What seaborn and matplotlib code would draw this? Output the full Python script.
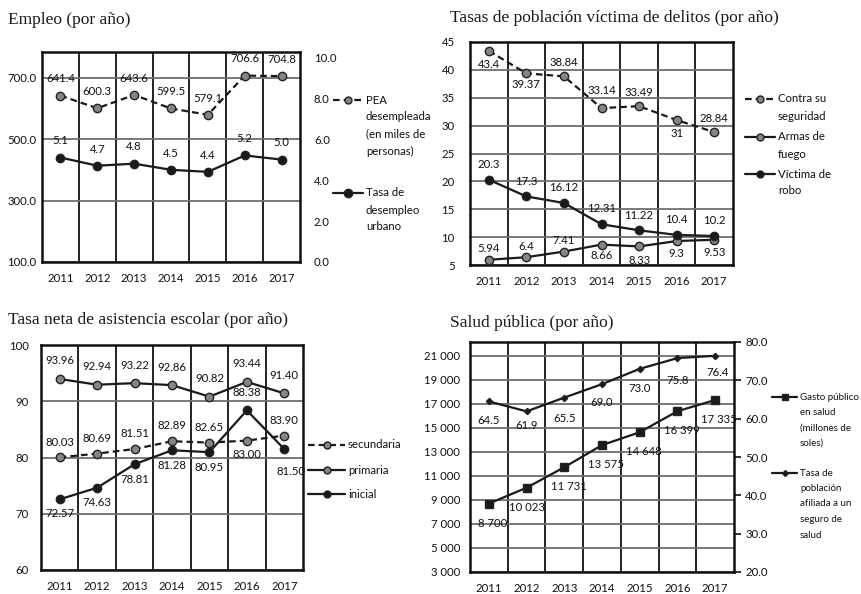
import matplotlib
matplotlib.use("Agg")
import matplotlib.pyplot as plt
from matplotlib.lines import Line2D
from matplotlib.ticker import FormatStrFormatter, FuncFormatter
import seaborn as sns
import numpy as np
import pandas as pd

# ---- data ----
years = [2011, 2012, 2013, 2014, 2015, 2016, 2017]

# Empleo
pea_desempleada = [641.4, 600.3, 643.6, 599.5, 579.1, 706.6, 704.8]
tasa_desempleo = [5.1, 4.7, 4.8, 4.5, 4.4, 5.2, 5.0]

# Tasas de poblacion victima de delitos
contra_seguridad = [43.4, 39.37, 38.84, 33.14, 33.49, 31, 28.84]
armas_fuego = [5.94, 6.4, 7.41, 8.66, 8.33, 9.3, 9.53]
victima_robo = [20.3, 17.3, 16.12, 12.31, 11.22, 10.4, 10.2]

# Tasa neta de asistencia escolar
secundaria = [80.03, 80.69, 81.51, 82.89, 82.65, 83.00, 83.90]
primaria = [93.96, 92.94, 93.22, 92.86, 90.82, 93.44, 91.40]
inicial = [72.57, 74.63, 78.81, 81.28, 80.95, 88.38, 81.50]

# Salud publica
gasto_salud = [8700, 10023, 11731, 13575, 14648, 16399, 17335]
tasa_afiliada = [64.5, 61.9, 65.5, 69.0, 73.0, 75.8, 76.4]

# label offsets in points (+ above, - below)
off_contra = [-10, -8, 10, 13, 10, -10, 10]
off_armas = [8, 8, 8, -8, -10, -9, -9]
off_secundaria = [11, 11, 11, 11, 11, -10, 11]
off_inicial = [-10, -11, -11, -11, -11, 13, -16]
off_afiliada = [-14, -10, -15, -13, -14, -16, -12]

sns.set_style("white")
plt.rcParams['font.family'] = ['Lato', 'DejaVu Sans']

W, H = 861, 594
fig = plt.figure(figsize=(W / 100, H / 100), dpi=100)

LINE = '#1a1a1a'
GRAYM = '#858585'
FS = 8.2


def px_axes(left, top, right, bottom):
    return fig.add_axes([left / W, 1 - bottom / H, (right - left) / W, (bottom - top) / H])


def frame(ax):
    ax.set_xlim(2010.5, 2017.5)
    ax.set_xticks(years)
    ax.set_xticks(np.arange(2011.5, 2017.5, 1), minor=True)
    ax.grid(which='minor', axis='x', color='#111111', lw=1.3)
    ax.grid(which='major', axis='y', color='#6e6e6e', lw=1.3)
    ax.set_axisbelow(True)
    ax.tick_params(which='both', length=0, labelsize=FS, colors='#111111')
    ax.tick_params(axis='x', pad=8)
    for s in ax.spines.values():
        s.set_color('#111111')
        s.set_linewidth(1.8)
    ax.set_xlabel('')
    ax.set_ylabel('')


def labels(ax, ys, texts, dy, dx=None):
    for i, (x, y, t) in enumerate(zip(years, ys, texts)):
        d = dy[i] if isinstance(dy, list) else dy
        xo = dx[i] if dx is not None else 0
        ax.annotate(t, (x, y), xytext=(xo, d), textcoords='offset points',
                    ha='center', va='center', fontsize=FS, color='#111111',
                    zorder=5)


def line(ax, ys, dashed=False, marker='o', mfc=LINE, ms=6):
    sns.lineplot(x=years, y=ys, ax=ax, color=LINE, lw=1.6,
                 linestyle=(0, (3, 1.8)) if dashed else '-',
                 marker=marker, markersize=ms, markerfacecolor=mfc,
                 markeredgecolor='#222222', markeredgewidth=1.0, zorder=4)


def legend_entry(x0, x1, y, text_lines, dashed=False, marker='o', mfc=LINE, ms=6,
                 fs=FS, step=17):
    yf = 1 - y / H
    fig.add_artist(Line2D([x0 / W, x1 / W], [yf, yf], transform=fig.transFigure,
                          color=LINE, lw=1.6,
                          linestyle=(0, (3, 1.8)) if dashed else '-'))
    fig.add_artist(Line2D([(x0 + x1) / 2 / W], [yf], transform=fig.transFigure,
                          marker=marker, markersize=ms, markerfacecolor=mfc,
                          markeredgecolor='#222222', lw=0))
    for i, t in enumerate(text_lines):
        fig.text((x1 + 3) / W, 1 - (y + i * step) / H, t, fontsize=fs,
                 va='center', ha='left', color='#111111')


title_font = dict(family='Liberation Serif', fontsize=12.5, color='#1a1a1a')

# ---------- Panel 1: Empleo ----------
ax1 = px_axes(42, 52, 300, 262)
line(ax1, pea_desempleada, dashed=True, mfc=GRAYM)
ax1.set_ylim(100, 100 + 10.25 * 200 / 3)
ax1.set_yticks([100, 300, 500, 700])
ax1.yaxis.set_major_formatter(FormatStrFormatter('%.1f'))
frame(ax1)
ax1.tick_params(axis='y', pad=4)
labels(ax1, pea_desempleada, [f"{v:.1f}" for v in pea_desempleada], 12)
ax1b = ax1.twinx()
line(ax1b, tasa_desempleo)
ax1b.set_ylim(0, 10.25)
ax1b.set_yticks(np.arange(0, 10.1, 2))
ax1b.yaxis.set_major_formatter(FormatStrFormatter('%.1f'))
ax1b.tick_params(length=0, labelsize=FS, colors='#111111', pad=10)
ax1b.set_ylabel('')
for s in ax1b.spines.values():
    s.set_visible(False)
labels(ax1b, tasa_desempleo, [f"{v:.1f}" for v in tasa_desempleo], 12)
fig.text(8 / W, 1 - 20 / H, "Empleo (por año)", va='center', **title_font)
legend_entry(333, 363, 100, ["PEA", "desempleada", "(en miles de", "personas)"],
             dashed=True, mfc=GRAYM, ms=5)
legend_entry(333, 363, 193, ["Tasa de", "desempleo", "urbano"])

# ---------- Panel 2: Delitos ----------
ax2 = px_axes(470, 42, 733, 265)
line(ax2, contra_seguridad, dashed=True, mfc=GRAYM)
line(ax2, armas_fuego, mfc=GRAYM)
line(ax2, victima_robo)
ax2.set_ylim(5, 45)
ax2.set_yticks(np.arange(5, 46, 5))
frame(ax2)
ax2.tick_params(axis='y', pad=11)
labels(ax2, contra_seguridad, [f"{v:g}" for v in contra_seguridad], off_contra)
labels(ax2, armas_fuego, [f"{v:g}" for v in armas_fuego], off_armas)
labels(ax2, victima_robo, [f"{v:g}" for v in victima_robo], 11)
fig.text(450 / W, 1 - 18 / H, "Tasas de población víctima de delitos (por año)",
         va='center', **title_font)
legend_entry(745, 775, 99, ["Contra su", "seguridad"], dashed=True, mfc=GRAYM, ms=5)
legend_entry(745, 775, 137, ["Armas de", "fuego"], mfc=GRAYM, ms=5)
legend_entry(745, 775, 174, ["Víctima de", "robo"], ms=5)

# ---------- Panel 3: Asistencia escolar ----------
ax3 = px_axes(41, 345, 303, 570)
line(ax3, secundaria, dashed=True, mfc=GRAYM)
line(ax3, primaria, mfc=GRAYM)
line(ax3, inicial)
ax3.set_ylim(60, 100)
ax3.set_yticks(np.arange(60, 101, 10))
frame(ax3)
ax3.tick_params(axis='y', pad=9)
labels(ax3, primaria, [f"{v:.2f}" for v in primaria], 13)
labels(ax3, secundaria, [f"{v:.2f}" for v in secundaria], off_secundaria)
labels(ax3, inicial, [f"{v:.2f}" for v in inicial], off_inicial,
       dx=[0, 0, 0, 0, 0, 0, 5])
fig.text(8 / W, 1 - 320 / H, "Tasa neta de asistencia escolar (por año)",
         va='center', **title_font)
legend_entry(308, 345, 445, ["secundaria"], dashed=True, mfc=GRAYM, ms=5)
legend_entry(308, 345, 470, ["primaria"], mfc=GRAYM, ms=5)
legend_entry(308, 345, 494, ["inicial"], ms=5)

# ---------- Panel 4: Salud publica ----------
ax4 = px_axes(470, 342, 734, 572)
line(ax4, gasto_salud, marker='s', ms=5.5)
ax4.set_ylim(3000, 3000 + 230 / 216 * 18000)
ax4.set_yticks(np.arange(3000, 21001, 2000))
ax4.yaxis.set_major_formatter(FuncFormatter(lambda v, p: f"{int(v):,}".replace(",", " ")))
frame(ax4)
ax4.tick_params(axis='y', pad=7)
labels(ax4, gasto_salud, [f"{v:,}".replace(",", " ") for v in gasto_salud], -14,
       dx=[3, 0, 3, 3, 3, 3, 3])
ax4b = ax4.twinx()
line(ax4b, tasa_afiliada, marker='D', ms=3.2)
ax4b.set_ylim(20, 80)
ax4b.set_yticks(np.arange(20, 81, 10))
ax4b.yaxis.set_major_formatter(FormatStrFormatter('%.1f'))
ax4b.tick_params(length=5, width=1.2, direction='out', labelsize=FS,
                 colors='#111111', pad=3)
ax4b.set_ylabel('')
for s in ax4b.spines.values():
    s.set_visible(False)
labels(ax4b, tasa_afiliada, [f"{v:.1f}" for v in tasa_afiliada], off_afiliada,
       dx=[0, 0, 0, 0, 0, 0, 2])
fig.text(450 / W, 1 - 323 / H, "Salud pública (por año)", va='center', **title_font)
legend_entry(772, 797, 397, ["Gasto público", "en salud", "(millones de", "soles)"],
             marker='s', ms=4.5, fs=7, step=15.3)
legend_entry(772, 797, 473, ["Tasa de", "población", "afiliada a un", "seguro de", "salud"],
             marker='D', ms=3, fs=7, step=15.5)

fig.savefig("out.png", dpi=100)
